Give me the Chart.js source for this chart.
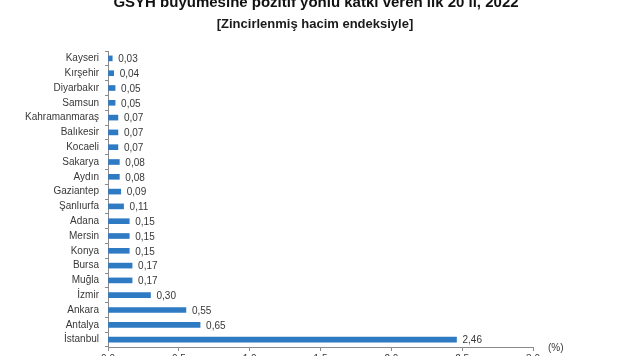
<!DOCTYPE html>
<html lang="tr">

<head>
    <meta charset="UTF-8">
    <title>GSYH büyümesine katkı</title>
    <style>
        html,
        body {
            margin: 0;
            padding: 0;
            background: #fff;
            overflow: hidden;
        }

        #wrap {
            position: absolute;
            left: 0;
            top: -10px;
            width: 632px;
            height: 377px;
        }
    </style>
    <script src="https://cdn.jsdelivr.net/npm/chart.js"></script>
</head>

<body>
    <div id="wrap">
        <canvas id="chart" width="632" height="377"></canvas>
    </div>

    <script>
        // veriler
        const cities = ['Kayseri', 'Kırşehir', 'Diyarbakır', 'Samsun', 'Kahramanmaraş', 'Balıkesir', 'Kocaeli',
            'Sakarya', 'Aydın', 'Gaziantep', 'Şanlıurfa', 'Adana', 'Mersin', 'Konya', 'Bursa', 'Muğla',
            'İzmir', 'Ankara', 'Antalya', 'İstanbul'];
        const contrib = [0.03, 0.04, 0.05, 0.05, 0.07, 0.07, 0.07, 0.08, 0.08, 0.09, 0.11, 0.15, 0.15, 0.15,
            0.17, 0.17, 0.30, 0.55, 0.65, 2.46];
        const xTicks = [0, 0.5, 1.0, 1.5, 2.0, 2.5, 3.0];

        const title = 'GSYH büyümesine pozitif yönlü katkı veren ilk 20 il, 2022';
        const subtitle = '[Zincirlenmiş hacim endeksiyle]';
        const unit = '(%)';

        const fmt = v => v.toFixed(2).replace('.', ',');
        const txt = '#383838';
        const axisCol = '#8a8a8a';

        // başlık, değer etiketleri
        const extras = {
            id: 'extras',
            afterDatasetsDraw(chart) {
                const ctx = chart.ctx;
                ctx.save();
                ctx.fillStyle = '#111';
                ctx.textAlign = 'center';
                ctx.textBaseline = 'alphabetic';
                ctx.font = 'bold 15px "Liberation Sans", Arial, sans-serif';
                ctx.fillText(title, 316, 17, 416);
                ctx.font = 'bold 13px "Liberation Sans", Arial, sans-serif';
                ctx.fillStyle = '#1a1a1a';
                ctx.fillText(subtitle, 315, 38, 200);

                ctx.font = '10px "Liberation Sans", Arial, sans-serif';
                ctx.fillStyle = txt;
                ctx.textAlign = 'left';
                ctx.textBaseline = 'middle';
                const meta = chart.getDatasetMeta(0);
                meta.data.forEach((bar, i) => {
                    ctx.fillText(fmt(contrib[i]), bar.x + 6, bar.y + 1);
                });

                ctx.fillText(unit, 548, 358);
                ctx.restore();
            }
        };

        const ctx = document.getElementById('chart').getContext('2d');
        const chart = new Chart(ctx, {
            type: 'bar',
            data: {
                labels: cities,
                datasets: [{
                    data: contrib,
                    backgroundColor: '#2e7bc4',
                    barThickness: 5
                }]
            },
            options: {
                indexAxis: 'y',
                responsive: false,
                animation: false,
                maintainAspectRatio: false,
                layout: {
                    padding: { top: 61, right: 99, bottom: 0, left: 0 }
                },
                plugins: {
                    legend: { display: false },
                    tooltip: { enabled: false }
                },
                scales: {
                    x: {
                        min: 0,
                        max: 3,
                        afterBuildTicks: s => { s.ticks = xTicks.map(v => ({ value: v })); },
                        afterFit: s => { s.height = 20; },
                        grid: {
                            drawOnChartArea: false,
                            tickLength: 4,
                            color: axisCol
                        },
                        border: { color: axisCol },
                        ticks: {
                            padding: 2,
                            color: txt,
                            font: { family: '"Liberation Sans", Arial, sans-serif', size: 10 },
                            callback: v => v.toFixed(1).replace('.', ','),
                            maxRotation: 0
                        }
                    },
                    y: {
                        afterFit: s => { s.width = 108; },
                        grid: {
                            drawOnChartArea: false,
                            tickLength: 3,
                            offset: true,
                            color: axisCol
                        },
                        border: { color: axisCol },
                        ticks: {
                            padding: 6,
                            color: txt,
                            autoSkip: false,
                            font: { family: '"Liberation Sans", Arial, sans-serif', size: 10 }
                        }
                    }
                }
            },
            plugins: [extras]
        });
    </script>
</body>

</html>
